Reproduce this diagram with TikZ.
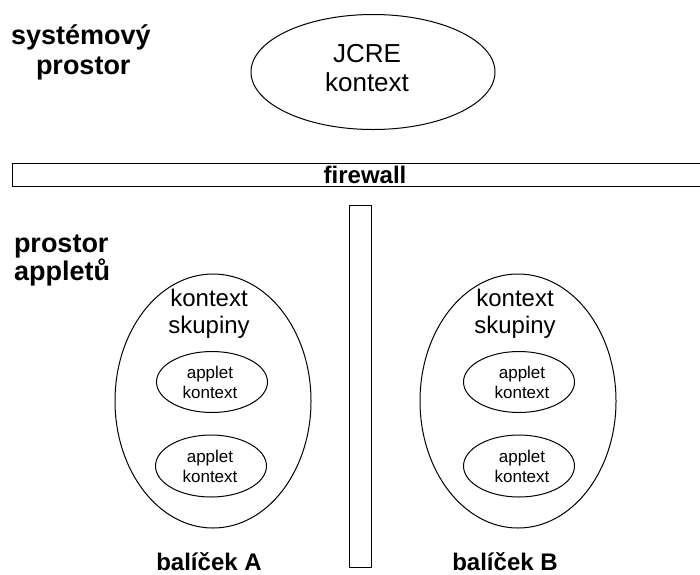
\documentclass[tikz,border=0pt]{standalone}
\usepackage{fontspec}
\setmainfont{Liberation Sans}
\usetikzlibrary{shapes.geometric}
\begin{document}
\begin{tikzpicture}[x=1pt,y=-1pt,
  every node/.style={inner sep=0pt,outer sep=0pt},
  lbl/.style={font=\fontsize{27}{30}\selectfont\bfseries,align=left},
  lbltwo/.style={font=\fontsize{27}{28}\selectfont\bfseries,align=left},
  pkg/.style={font=\fontsize{24}{24}\selectfont\bfseries},
  big/.style={font=\fontsize{26}{29}\selectfont,align=center},
  mid/.style={font=\fontsize{24}{27}\selectfont,align=center},
  small/.style={font=\fontsize{17}{20}\selectfont,align=center},
  ell/.style={draw,ellipse,line width=1pt},
  box/.style={draw,line width=1pt}]
\useasboundingbox (0,0) rectangle (700,574);
% the base anchor of a two-line node is the baseline of its last line
\node[lbl,anchor=base west] (sys) at (11,74) {systémový\\\hspace*{25pt}prostor};
\node[ell,minimum width=244pt,minimum height=115pt] (jcre) at (373,72) {};
\node[big,anchor=base] (jcret) at (367,91) {JCRE\\kontext};
\node[box,minimum width=690pt,minimum height=23pt] (fw) at (357,175) {};
\node[font=\fontsize{24}{24}\selectfont\bfseries] (fwt) at (365,175) {firewall};
\node[box,minimum width=22pt,minimum height=362pt] (wall) at (360,386) {};
\node[lbltwo,anchor=base west] (app) at (14,280) {prostor\\appletů};
% left package
\node[ell,minimum width=196pt,minimum height=254pt] (ga) at (213,401) {};
\node[mid,anchor=base] (gat) at (209,333) {kontext\\skupiny};
\node[ell,minimum width=111pt,minimum height=61pt] (a1) at (212,382) {};
\node[small] (a1t) at (210,382) {applet\\kontext};
\node[ell,minimum width=111pt,minimum height=62pt] (a2) at (211,466) {};
\node[small] (a2t) at (210,466) {applet\\kontext};
\node[pkg,anchor=base] (pa) at (209,570) {balíček A};
% right package
\node[ell,minimum width=196pt,minimum height=254pt] (gb) at (518,401) {};
\node[mid,anchor=base] (gbt) at (515,333) {kontext\\skupiny};
\node[ell,minimum width=111pt,minimum height=61pt] (b1) at (519,382) {};
\node[small] (b1t) at (522,382) {applet\\kontext};
\node[ell,minimum width=111pt,minimum height=62pt] (b2) at (519,466) {};
\node[small] (b2t) at (522,466) {applet\\kontext};
\node[pkg,anchor=base] (pb) at (505,570) {balíček B};
\end{tikzpicture}
\end{document}
